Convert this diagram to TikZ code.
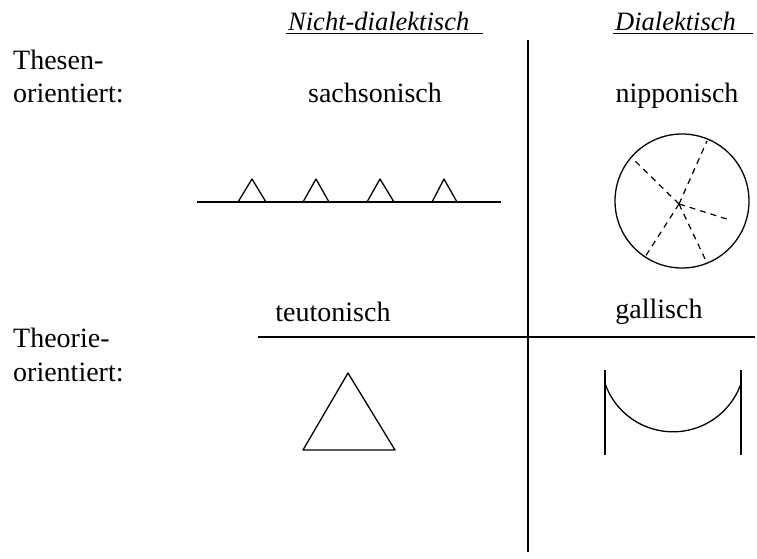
\documentclass[tikz,border=0pt]{standalone}
\usepackage{fontspec}
\setmainfont{Liberation Serif}
\begin{document}
\begin{tikzpicture}[x=1pt,y=-1pt,
  lbl/.style={inner sep=0pt,anchor=base,font=\fontsize{28}{32}\selectfont},
  side/.style={inner sep=0pt,anchor=base west,font=\fontsize{28}{32}\selectfont},
  head/.style={inner sep=0pt,anchor=base west,font=\fontsize{26.5}{30}\selectfont\itshape},
  rule/.style={line width=1.4pt},
  figline/.style={line width=1.3pt,line join=round},
  spoke/.style={line width=1.2pt,dash pattern=on 6pt off 5pt}]
\useasboundingbox (0,0) rectangle (757,558);
% headers
\node[head] (h1) at (288,30) {Nicht-dialektisch};
\node[head] (h2) at (615,30) {Dialektisch};
\coordinate (u1a) at (286,33); \coordinate (u1b) at (483,33);
\coordinate (u2a) at (613,33); \coordinate (u2b) at (753,33);
\draw[line width=1pt] (u1a) -- (u1b);
\draw[line width=1pt] (u2a) -- (u2b);
% side labels
\node[side] (t1) at (13,69) {Thesen-};
\node[side] (t2) at (13,102) {orientiert:};
\node[side] (t3) at (13,347) {Theorie-};
\node[side] (t4) at (13,381) {orientiert:};
% cell labels
\node[lbl] (sa) at (375,102) {sachsonisch};
\node[lbl] (ni) at (677,102) {nipponisch};
\node[lbl] (te) at (333,321) {teutonisch};
\node[lbl] (ga) at (659,318) {gallisch};
% dividers
\coordinate (vt) at (528,40); \coordinate (vb) at (528,552);
\coordinate (hl) at (258,337); \coordinate (hr) at (755,337);
\draw[rule] (vt) -- (vb);
\draw[rule] (hl) -- (hr);
% sachsonisch: line with small triangles
\draw[figline] (197,202) -- (501,202);
\draw[figline] (238,202) -- (252,179) -- (266,202);
\draw[figline] (303,202) -- (316,179) -- (329,202);
\draw[figline] (367,202) -- (380,179) -- (394,202);
\draw[figline] (432,202) -- (444,179) -- (457,202);
% nipponisch: circle with dashed spokes
\coordinate (cc) at (682,201);
\coordinate (sc) at (679,204);
\draw[figline] (cc) circle[radius=67];
\draw[spoke] (sc) -- (707,141);
\draw[spoke] (sc) -- (632,158);
\draw[spoke] (sc) -- (730,220);
\draw[spoke] (sc) -- (645,257);
\draw[spoke] (sc) -- (707,263);
% teutonisch: triangle
\draw[figline] (348,373) -- (395,450) -- (303,450) -- cycle;
% gallisch: U shape
\draw[figline] (605,370) -- (605,455);
\draw[figline] (741,370) -- (741,455);
\draw[figline] plot[domain=-71:71,samples=60,smooth] ({673+72*sin(\x)},{359.8+72*cos(\x)});
\end{tikzpicture}
\end{document}
